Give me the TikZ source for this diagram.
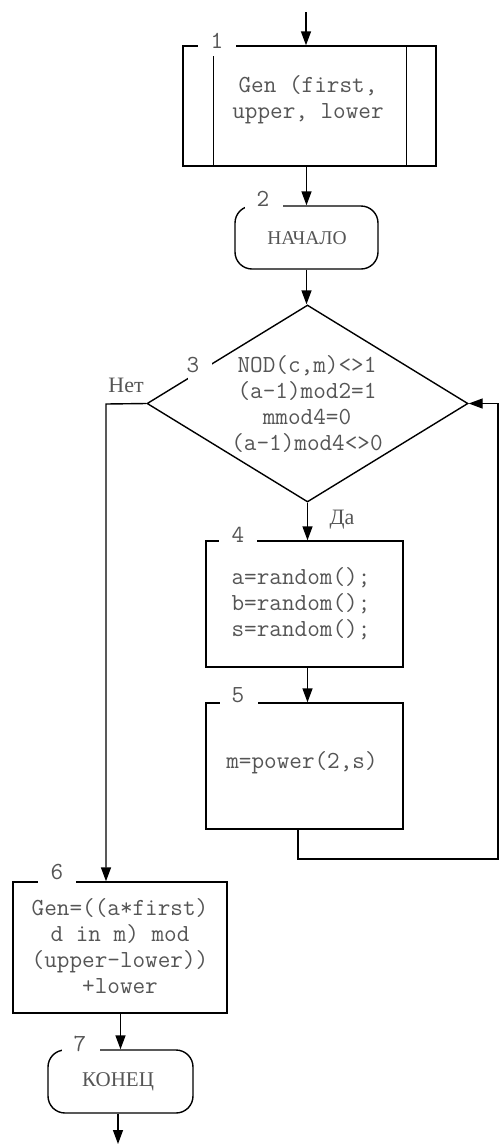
\documentclass[tikz,border=0pt]{standalone}
\usepackage{fontspec}
\newfontfamily\cyrfont{Liberation Serif}
\usetikzlibrary{arrows.meta,shapes.geometric}
\definecolor{txt}{HTML}{555555}
\tikzset{
 line/.style={line width=1.4pt, draw=black},
 arr/.style={line, -{Triangle[length=14pt,width=10pt]}},
 blk/.style={line, rectangle, inner sep=0pt},
 term/.style={line, rectangle, rounded corners=17pt, inner sep=0pt},
 dia/.style={line, diamond, inner sep=0pt},
 txtn/.style={font=\ttfamily\fontsize{24.5}{26}\selectfont, text=txt, align=center, inner sep=0pt},
 cyrn/.style={font=\cyrfont\fontsize{19.5}{24}\selectfont, text=txt, align=center, inner sep=0pt},
 gap/.style={fill=white, inner sep=0pt, minimum width=38pt, minimum height=20pt},
}
\begin{document}
\begin{tikzpicture}[x=1pt,y=-1pt]
\useasboundingbox (0,0) rectangle (499,1144);
% shapes
\node[blk, minimum width=253, minimum height=120] (n1) at (309.5,106) {};
\draw[line] ([xshift=31pt]n1.north west) -- ([xshift=31pt]n1.south west);
\draw[line] ([xshift=-30pt]n1.north east) -- ([xshift=-30pt]n1.south east);
\node[term, minimum width=143, minimum height=63] (n2) at (306.5,237.5) {};
\node[dia, minimum width=321, minimum height=197] (d3) at (307.5,403.5) {};
\node[blk, minimum width=197, minimum height=126] (n4) at (304.5,604) {};
\node[blk, minimum width=197, minimum height=126] (n5) at (304.5,766) {};
\node[blk, minimum width=214, minimum height=131] (n6) at (120,947.5) {};
\node[term, minimum width=145, minimum height=63] (n7) at (120.5,1081.5) {};
% texts
\node[txtn] (t1) at (308,100) {Gen (first,\\upper, lower};
\node[cyrn] (t2) at (307,238) {НАЧАЛО};
\node[txtn] (t3) at (307,404) {NOD(c,m)<>1\\(a-1)mod2=1\\mmod4=0\\(a-1)mod4<>0};
\node[txtn] (t4) at (301,604) {a=random();\\b=random();\\s=random();};
\node[txtn] (t5) at (302,763) {m=power(2,s)};
\node[txtn] (t6) at (120,946) {Gen=((a*first)\\d in m) mod\\(upper-lower))\\+lower};
\node[cyrn, font=\cyrfont\fontsize{21}{24}\selectfont] (t7) at (118,1082) {КОНЕЦ};
% connectors
\coordinate (top) at (306,12);
\draw[arr] (top) -- (top |- n1.north);
\draw[arr] (n1.south -| n2.north) -- (n2.north);
\draw[arr] (n2.south) -- (n2.south |- d3.north);
\draw[arr] (d3.south) -- (d3.south |- n4.north);
\draw[arr] (n4.south -| d3.south) -- (n5.north -| d3.south);
\coordinate (lp) at (298,859);
\coordinate (rr) at (498,859);
\draw[arr] (n5.south -| lp) -- (lp) -- (rr) -- (rr |- d3.east) -- (d3.east);
\coordinate (nl) at (106,404);
\draw[arr] (d3.west) -- (nl) -- (nl |- n6.north);
\draw[arr] (n6.south -| n7.north) -- (n7.north);
\coordinate (bot) at (118,1144);
\draw[arr] (bot |- n7.south) -- (bot);
% number labels with gaps
\node[gap] (g1) at (217,46) {};
\node[txtn] (l1) at (217,41) {1};
\node[gap, minimum height=16pt] (g2) at (264,206) {};
\node[txtn] (l2) at (263,199) {2};
\node[gap, minimum width=24pt, minimum height=26pt] (g3) at (200,371) {};
\node[txtn] (l3) at (193,365) {3};
\node[gap] (g4) at (238,541) {};
\node[txtn] (l4) at (238,535) {4};
\node[gap] (g5) at (239,703) {};
\node[txtn] (l5) at (238,695) {5};
\node[gap] (g6) at (57,882) {};
\node[txtn] (l6) at (57,872) {6};
\node[gap, minimum height=16pt] (g7) at (81,1050) {};
\node[txtn] (l7) at (80,1044) {7};
% branch labels
\node[cyrn, font=\cyrfont\fontsize{22}{24}\selectfont] (no) at (126,385) {Нет};
\node[cyrn, font=\cyrfont\fontsize{22}{24}\selectfont] (yes) at (342,520) {Да};
\end{tikzpicture}
\end{document}
